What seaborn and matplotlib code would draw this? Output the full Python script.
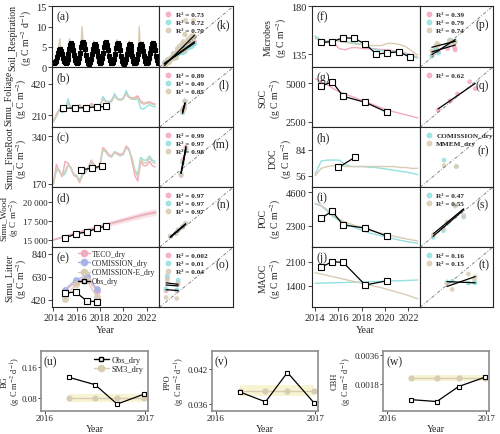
import numpy as np
import matplotlib
matplotlib.use('Agg')
import matplotlib.pyplot as plt
import seaborn as sns
from matplotlib.lines import Line2D

sns.set_style('ticks')
plt.rcParams['font.family'] = ['Liberation Serif', 'DejaVu Serif']
plt.rcParams['mathtext.fontset'] = 'stix'

PINK = '#f5a9bc'
CYAN = '#93e2df'
BEIGE = '#d9ccb4'
LAV = '#a8b3e8'
BAND = '#f7f3cf'

# ---------------- data ----------------
# (a) soil respiration, monthly 2014-2022
resp_obs = [1.0, 1.2, 1.5, 2.5, 3.5, 4.2, 4.5, 4.0, 3.2, 2.2, 1.5, 1.2,
            1.0, 1.3, 2.0, 3.2, 4.5, 5.5, 6.0, 5.5, 4.2, 3.0, 1.8, 1.2,
            1.0, 1.2, 2.2, 3.5, 5.0, 6.0, 6.2, 5.8, 4.5, 3.0, 1.8, 1.1,
            0.9, 1.2, 2.0, 3.2, 4.6, 5.5, 5.8, 5.2, 4.0, 2.8, 1.6, 1.0,
            1.0, 1.3, 2.2, 3.5, 5.0, 6.0, 6.2, 5.6, 4.2, 2.8, 1.7, 1.1,
            1.0, 1.2, 2.0, 3.3, 4.8, 5.8, 6.0, 5.5, 4.2, 2.8, 1.6, 1.0,
            0.9, 1.2, 2.0, 3.2, 4.5, 5.4, 5.8, 5.3, 4.0, 2.7, 1.6, 1.0,
            1.0, 1.2, 2.0, 3.2, 4.6, 5.5, 5.8, 5.3, 4.0, 2.7, 1.6, 1.0,
            1.0, 1.3, 2.2, 3.5, 4.8, 5.8, 6.0, 5.6, 4.3, 2.9, 1.7, 1.1]
resp_teco = [0.9, 1.1, 1.7, 2.9, 4.0, 4.8, 5.0, 4.4, 3.3, 2.1, 1.3, 1.0,
             0.9, 1.1, 1.9, 3.1, 4.3, 5.1, 5.3, 4.7, 3.5, 2.2, 1.3, 1.0,
             0.9, 1.2, 1.9, 3.2, 4.4, 5.3, 5.4, 4.8, 3.5, 2.3, 1.4, 1.0,
             0.9, 1.1, 1.8, 3.0, 4.2, 5.0, 5.2, 4.6, 3.4, 2.2, 1.3, 1.0,
             0.9, 1.1, 1.9, 3.1, 4.3, 5.2, 5.3, 4.7, 3.4, 2.2, 1.3, 1.0,
             0.9, 1.1, 1.8, 3.0, 4.2, 5.1, 5.2, 4.6, 3.4, 2.1, 1.3, 1.0,
             0.9, 1.1, 1.8, 3.0, 4.1, 5.0, 5.2, 4.5, 3.3, 2.1, 1.3, 1.0,
             0.9, 1.1, 1.9, 3.1, 4.3, 5.0, 5.1, 4.5, 3.3, 2.1, 1.3, 1.0,
             0.9, 1.1, 1.9, 3.1, 4.3, 5.2, 5.3, 4.7, 3.5, 2.2, 1.3, 1.0]
resp_com = [0.8, 1.0, 1.6, 2.8, 3.8, 4.5, 4.8, 4.3, 3.2, 2.0, 1.2, 0.9,
            0.8, 1.0, 1.8, 3.0, 4.1, 4.8, 5.0, 4.4, 3.3, 2.1, 1.2, 0.9,
            0.8, 1.1, 1.8, 3.1, 4.2, 5.0, 5.1, 4.5, 3.3, 2.1, 1.3, 0.9,
            0.8, 1.0, 1.7, 2.9, 4.0, 4.7, 4.9, 4.3, 3.2, 2.0, 1.2, 0.9,
            0.8, 1.0, 1.8, 3.0, 4.1, 4.9, 5.0, 4.4, 3.2, 2.0, 1.2, 0.9,
            0.8, 1.0, 1.7, 2.9, 4.0, 4.8, 4.9, 4.3, 3.2, 2.0, 1.2, 0.9,
            0.8, 1.0, 1.7, 2.9, 3.9, 4.7, 4.9, 4.3, 3.1, 2.0, 1.2, 0.9,
            0.8, 1.0, 1.8, 3.0, 4.1, 4.7, 4.8, 4.3, 3.1, 2.0, 1.2, 0.9,
            0.8, 1.0, 1.8, 3.0, 4.1, 4.9, 5.0, 4.4, 3.3, 2.1, 1.2, 0.9]
resp_come = [0.6, 0.8, 1.5, 3.0, 4.5, 5.5, 7.0, 5.0, 3.5, 2.0, 1.0, 0.7,
             0.6, 0.9, 2.0, 4.0, 7.0, 5.5, 6.0, 5.0, 3.8, 2.2, 1.1, 0.7,
             0.6, 0.9, 2.0, 3.8, 6.0, 10.0, 6.5, 5.5, 3.8, 2.2, 1.1, 0.7,
             0.6, 0.8, 1.8, 3.5, 5.0, 6.5, 6.0, 5.2, 3.5, 2.0, 1.0, 0.6,
             0.6, 0.8, 1.8, 3.5, 5.5, 6.0, 6.5, 5.2, 3.6, 2.0, 1.0, 0.6,
             0.6, 0.8, 1.9, 3.6, 5.2, 6.8, 6.0, 5.5, 3.6, 2.0, 1.0, 0.6,
             0.6, 0.8, 1.8, 3.5, 5.0, 6.2, 6.5, 5.0, 3.5, 2.0, 1.0, 0.6,
             0.6, 0.8, 2.0, 3.8, 10.0, 6.0, 6.2, 5.0, 3.6, 2.0, 1.0, 0.6,
             0.6, 0.8, 1.8, 3.6, 5.2, 6.5, 6.0, 5.4, 3.6, 2.0, 1.0, 0.6]

# (b) foliage, quarterly
fol_teco = [170, 215, 250, 240, 250, 290, 270, 255, 255, 280, 265, 255,
            260, 290, 275, 265, 280, 320, 305, 300, 310, 345, 320, 315,
            325, 360, 335, 325, 330, 340, 305, 290, 295, 300, 290, 285]
fol_com = [165, 200, 245, 225, 235, 320, 255, 240, 250, 275, 255, 245,
           255, 280, 265, 255, 270, 335, 305, 300, 305, 355, 320, 315,
           320, 375, 330, 320, 315, 320, 255, 250, 265, 280, 270, 265]
fol_come = [165, 210, 240, 230, 240, 285, 260, 245, 250, 272, 258, 248,
            255, 282, 268, 258, 272, 315, 300, 292, 300, 338, 315, 308,
            318, 352, 326, 316, 322, 330, 295, 282, 288, 292, 284, 278]
fol_obs_t = [2014.85, 2015.85, 2016.8, 2017.75, 2018.5]
fol_obs = [255, 258, 260, 265, 268]

# (c) fine root, quarterly
root_teco = [170, 240, 215, 195, 250, 245, 225, 200, 195, 175, 200, 215,
             230, 255, 240, 225, 240, 300, 290, 275, 270, 285, 280, 275,
             280, 305, 295, 250, 200, 180, 250, 235, 235, 250, 235, 230]
root_com = [175, 215, 220, 200, 205, 235, 230, 205, 200, 185, 205, 210,
            225, 245, 235, 225, 235, 290, 285, 270, 265, 285, 275, 270,
            275, 300, 290, 260, 220, 205, 265, 255, 255, 270, 255, 250]
root_come = [172, 225, 218, 198, 215, 238, 228, 203, 198, 180, 202, 212,
             228, 250, 238, 224, 238, 295, 285, 270, 268, 282, 276, 272,
             276, 300, 290, 262, 215, 195, 258, 245, 245, 262, 248, 243]
root_obs_t = [2016.4, 2017.35, 2018.2]
root_obs = [221, 226, 235]

# (d) wood, yearly
wood_teco = [15000, 15450, 15900, 16320, 16750, 17180, 17600, 18000, 18400, 18700]
wood_lo = [14950, 15300, 15700, 16080, 16450, 16850, 17230, 17600, 17960, 18250]
wood_hi = [15050, 15600, 16100, 16560, 17050, 17510, 17970, 18400, 18840, 19150]
wood_com = [15000, 15430, 15870, 16300, 16720, 17150, 17560, 17960, 18350, 18650]
wood_come = [15000, 15420, 15850, 16280, 16700, 17120, 17520, 17920, 18300, 18600]
wood_obs_t = [2014.95, 2015.9, 2016.85, 2017.75, 2018.5]
wood_obs = [15190, 15800, 16030, 16520, 16830]

# (e) litter, annual
lit_t = [2014.95, 2015.9, 2016.85, 2017.75]
lit_teco = [500, 580, 620, 500]
lit_com = [510, 600, 640, 520]
lit_come = [430, 560, 600, 440]
lit_obs = [480, 490, 410, 400]

# (f)-(j), half-yearly
mic_teco = [151, 148, 147, 146, 140, 139, 141, 141, 140, 140, 140, 139, 139, 138, 138, 136, 134, 132]
mic_com = [152, 148, 147, 148, 148, 147, 146, 145, 144, 141, 139, 138, 138, 137, 136, 135, 133, 131]
mic_come = [150, 147, 146, 148, 147, 146, 145, 144, 144, 143, 143, 143, 145, 145, 144, 142, 138, 134]
mic_obs_t = [2014.5, 2015.45, 2016.4, 2017.35, 2018.3, 2019.25, 2020.2, 2021.2, 2022.15]
mic_obs = [146, 146.6, 150.4, 149.8, 144.4, 135, 136, 137.2, 131.9]

soc_teco = [5300, 5100, 4900, 4650, 4450, 4300, 4150, 4000, 3850, 3700, 3550, 3400, 3250, 3150, 3050, 2950, 2850, 2750]
soil_obs_t = [2014.5, 2015.45, 2016.4, 2018.3, 2020.2]
soc_obs = [4804, 5104, 4152, 3760, 3108]

doc_com = [58, 72, 73, 73, 73, 68, 66, 66, 66, 65, 65, 64, 63, 62, 61, 60, 59, 57]
doc_mmem = [56, 64, 66, 67, 67, 66, 66, 66, 66, 66, 66, 66, 66, 66, 65, 65, 64, 64]
doc_obs_t = [2016.0, 2017.4]
doc_obs = [65, 76]

poc_com = [3800, 3650, 3300, 2900, 2650, 2450, 2250, 2100, 1950, 1800, 1700, 1600, 1500, 1400, 1300, 1220, 1150, 1080]
poc_mmem = [3850, 3700, 3400, 3000, 2750, 2550, 2400, 2250, 2100, 1980, 1870, 1770, 1670, 1580, 1480, 1400, 1320, 1250]
poc_obs = [2811, 3294, 2348, 2141, 1568]

maoc_com = [1470, 1475, 1480, 1485, 1490, 1495, 1500, 1505, 1510, 1515, 1520, 1525, 1530, 1540, 1545, 1550, 1560, 1565]
maoc_mmem = [1780, 1740, 1700, 1660, 1620, 1580, 1540, 1500, 1460, 1420, 1380, 1340, 1290, 1240, 1190, 1140, 1080, 1020]
maoc_obs = [1936, 2100, 2080, 1420, 1546]

# enzymes (u)-(w)
enz_t = [2016.24, 2016.5, 2016.72, 2016.99]
bg_obs = [0.133, 0.1145, 0.0657, 0.0909]
bg_sm3 = [0.08, 0.08, 0.08, 0.08]
bg_lo, bg_hi = [0.07] * 4, [0.09] * 4
ppo_obs = [0.03807, 0.03639, 0.04133, 0.03617]
ppo_sm3 = [0.0383, 0.0383, 0.0383, 0.0383]
ppo_lo, ppo_hi = [0.0373] * 4, [0.0393] * 4
cbh_obs = [0.0008, 0.00068, 0.00163, 0.00223]
cbh_sm3 = [0.00218, 0.00218, 0.00218, 0.00218]
cbh_lo, cbh_hi = [0.00198] * 4, [0.00238] * 4

# time grids
t_month = 2014 + (np.arange(108) + 0.5) / 12
t_q = 2014 + np.arange(36) * 0.25
t_half = np.linspace(2014, 2022.8, 18)
t_year = np.linspace(2014, 2022.8, 10)


def at_obs(t, v, ot):
    idx = np.abs(np.asarray(t)[:, None] - np.asarray(ot)[None, :]).argmin(axis=0)
    return np.asarray(v)[idx]


fig = plt.figure(figsize=(5, 4.35), dpi=100)


def px_ax(x0, y0, x1, y1):
    return fig.add_axes([x0 / 500, 1 - y1 / 435, (x1 - x0) / 500, (y1 - y0) / 435])


def ts_panel(ax, xlim, ylim, ticks, ylabel, tag, lines, obs_t, obs_v, ticklabels=None,
             ms=4, mfc='white'):
    for t, v, c in lines:
        sns.lineplot(x=t, y=v, color=c, lw=1.0, ax=ax)
    sns.lineplot(x=obs_t, y=obs_v, color='k', lw=0.9, marker='s', ms=ms,
                 markerfacecolor=mfc, markeredgecolor='k', markeredgewidth=0.8, ax=ax)
    ax.set_xlim(xlim)
    ax.set_ylim(ylim)
    ax.set_yticks(ticks)
    if ticklabels is not None:
        ax.set_yticklabels(ticklabels)
    ax.tick_params(axis='y', labelsize=7.5, length=3, width=0.6, pad=1)
    ax.tick_params(axis='x', bottom=False, labelbottom=False)
    ax.set_ylabel(ylabel, fontsize=7, labelpad=1.5, linespacing=1.15)
    ax.set_xlabel('')
    ax.text(0.04, 0.93, tag, transform=ax.transAxes, fontsize=8.5, va='top')
    for s in ax.spines.values():
        s.set_linewidth(0.8)


def sc_panel(ax, lim, obs, models, r2, tag, fit=True, labels=None, tag_y=0.66):
    ax.plot(lim, lim, color='0.45', lw=0.6, ls=(0, (4, 2, 1, 2)))
    for vals, c in models:
        sns.scatterplot(x=obs, y=vals, color=c, s=12, edgecolor='none', alpha=0.85,
                        ax=ax, legend=False)
    if fit:
        for vals, c in models:
            k, b = np.polyfit(obs, vals, 1)
            xs = np.array([min(obs), max(obs)])
            ax.plot(xs, k * xs + b, color='k', lw=0.9)
    handles = [Line2D([], [], marker='o', ls='', color=c, ms=3.2, alpha=0.85) for _, c in models]
    if labels is None:
        labels = ['R² = ' + r for r in r2]
    ax.legend(handles, labels, loc='upper left', frameon=False,
              prop={'size': 5.2, 'weight': 'bold'}, handletextpad=0.4,
              labelspacing=0.3, borderaxespad=0.25, handlelength=1.2)
    ax.text(0.95, tag_y, tag, transform=ax.transAxes, ha='right', fontsize=8.5)
    ax.set_xlim(lim)
    ax.set_ylim(lim)
    ax.set_xticks([])
    ax.set_yticks([])
    ax.set_xlabel('')
    ax.set_ylabel('')
    for s in ax.spines.values():
        s.set_linewidth(0.8)


rows = [7.3, 68.3, 128.3, 188.3, 248.3, 308.3]
xl_left = (2013.9, 2023.1)
xl_right = (2013.7, 2023.0)
unit_d = '(g C m$^{-2}$ d$^{-1}$)'
unit = '(g C m$^{-2}$)'

# ---- left column ----
lim_a = (0, 15)
ax = px_ax(52.3, rows[0], 159.3, rows[1])
ts_panel(ax, xl_left, lim_a, [0, 5, 10, 15], 'Soil_Respiration\n' + unit_d, '(a)',
         [(t_month, resp_teco, PINK), (t_month, resp_com, CYAN), (t_month, resp_come, BEIGE)],
         t_month, resp_obs, ms=2.2, mfc='k')
ax = px_ax(159.3, rows[0], 233.3, rows[1])
sc_panel(ax, (0, 13), resp_obs, [(resp_teco, PINK), (resp_com, CYAN), (resp_come, BEIGE)],
         ['0.73', '0.72', '0.70'], '(k)')

lim_b = (127, 533)
ax = px_ax(52.3, rows[1], 159.3, rows[2])
ts_panel(ax, xl_left, lim_b, [210, 420], 'Simu_Foliage\n' + unit, '(b)',
         [(t_q, fol_teco, PINK), (t_q, fol_com, CYAN), (t_q, fol_come, BEIGE)],
         fol_obs_t, fol_obs)
ax = px_ax(159.3, rows[1], 233.3, rows[2])
sc_panel(ax, lim_b, fol_obs, [(at_obs(t_q, m, fol_obs_t), c) for m, c in
                              [(fol_teco, PINK), (fol_com, CYAN), (fol_come, BEIGE)]],
         ['0.89', '0.49', '0.85'], '(l)')

lim_c = (158, 372)
ax = px_ax(52.3, rows[2], 159.3, rows[3])
ts_panel(ax, xl_left, lim_c, [170, 340], 'Simu_FineRoot\n' + unit, '(c)',
         [(t_q, root_teco, PINK), (t_q, root_com, CYAN), (t_q, root_come, BEIGE)],
         root_obs_t, root_obs)
ax = px_ax(159.3, rows[2], 233.3, rows[3])
sc_panel(ax, lim_c, root_obs, [(at_obs(t_q, m, root_obs_t), c) for m, c in
                               [(root_teco, PINK), (root_com, CYAN), (root_come, BEIGE)]],
         ['0.99', '0.97', '0.98'], '(m)')

lim_d = (14000, 22000)
ax = px_ax(52.3, rows[3], 159.3, rows[4])
ax.fill_between(t_year, wood_lo, wood_hi, color=PINK, alpha=0.35, lw=0)
ts_panel(ax, xl_left, lim_d, [15000, 17500, 20000], 'Simu_Wood\n' + unit, '(d)',
         [(t_year, wood_com, CYAN), (t_year, wood_come, BEIGE), (t_year, wood_teco, PINK)],
         wood_obs_t, wood_obs, ticklabels=['15 000', '17 500', '20 000'])
ax.tick_params(axis='y', labelsize=6.5, pad=0.5)
ax.set_ylabel('Simu_Wood\n' + unit, fontsize=6.5, linespacing=1.0)
ax.yaxis.set_label_coords(-0.29, 0.5)
ax = px_ax(159.3, rows[3], 233.3, rows[4])
sc_panel(ax, lim_d, wood_obs, [(at_obs(t_year, m, wood_obs_t), c) for m, c in
                               [(wood_teco, PINK), (wood_com, CYAN), (wood_come, BEIGE)]],
         ['0.97', '0.97', '0.97'], '(n)')

lim_e = (350, 900)
ax = px_ax(52.3, rows[4], 159.3, rows[5])
for v, c in [(lit_teco, PINK), (lit_com, LAV), (lit_come, BEIGE)]:
    sns.lineplot(x=lit_t, y=v, color=c, lw=1.0, marker='o', ms=5, markeredgecolor='none',
                 alpha=0.9, ax=ax)
ts_panel(ax, xl_left, lim_e, [420, 630, 840], 'Simu_Litter\n' + unit, '(e)', [], lit_t, lit_obs)
ax.tick_params(axis='x', bottom=True, labelbottom=True, labelsize=7.5, length=3, width=0.6, pad=1)
ax.set_xticks([2014, 2016, 2018, 2020, 2022])
ax.set_xlabel('Year', fontsize=7.5, labelpad=2)
leg_h = [Line2D([], [], color=PINK, marker='o', ms=4.5, lw=1),
         Line2D([], [], color=LAV, marker='o', ms=4.5, lw=1),
         Line2D([], [], color=BEIGE, marker='o', ms=4.5, lw=1),
         Line2D([], [], color='k', marker='s', ms=3.5, lw=1, mfc='white')]
ax.legend(leg_h, ['TECO_dry', 'COMISSION_dry', 'COMISSION-E_dry', 'Obs_dry'],
          loc='upper right', frameon=False, fontsize=5.5, handlelength=1.6,
          handletextpad=0.3, labelspacing=0.15, borderaxespad=0.1,
          bbox_to_anchor=(1.0, 1.02))
ax = px_ax(159.3, rows[4], 233.3, rows[5])
sc_panel(ax, lim_e, lit_obs, [(lit_teco, PINK), (lit_com, CYAN), (lit_come, BEIGE)],
         ['0.002', '0.01', '0.04'], '(o)')

# ---- right column ----
lim_f = (122.5, 180)
ax = px_ax(311.7, rows[0], 420, rows[1])
ts_panel(ax, xl_right, lim_f, [135, 180], 'Microbes\n' + unit, '(f)',
         [(t_half, mic_teco, PINK), (t_half, mic_com, CYAN), (t_half, mic_come, BEIGE)],
         mic_obs_t, mic_obs)
ax = px_ax(420, rows[0], 492.7, rows[1])
sc_panel(ax, lim_f, mic_obs, [(at_obs(t_half, m, mic_obs_t), c) for m, c in
                              [(mic_teco, PINK), (mic_com, CYAN), (mic_come, BEIGE)]],
         ['0.39', '0.79', '0.74'], '(p)')

lim_g = (2135, 6040)
ax = px_ax(311.7, rows[1], 420, rows[2])
ts_panel(ax, xl_right, lim_g, [2500, 5000], 'SOC\n' + unit, '(g)',
         [(t_half, soc_teco, PINK)], soil_obs_t, soc_obs)
ax = px_ax(420, rows[1], 492.7, rows[2])
sc_panel(ax, lim_g, soc_obs, [(at_obs(t_half, soc_teco, soil_obs_t), PINK)], ['0.62'], '(q)')

lim_h = (43.4, 108.7)
ax = px_ax(311.7, rows[2], 420, rows[3])
ts_panel(ax, xl_right, lim_h, [56, 84], 'DOC\n' + unit, '(h)',
         [(t_half, doc_com, CYAN), (t_half, doc_mmem, BEIGE)], doc_obs_t, doc_obs)
ax = px_ax(420, rows[2], 492.7, rows[3])
sc_panel(ax, lim_h, doc_obs, [(at_obs(t_half, m, doc_obs_t), c) for m, c in
                              [(doc_com, CYAN), (doc_mmem, BEIGE)]],
         [], '(r)', fit=False, labels=['COMISSION_dry', 'MMEM_dry'], tag_y=0.56)

lim_i = (810, 4945)
ax = px_ax(311.7, rows[3], 420, rows[4])
ts_panel(ax, xl_right, lim_i, [2300, 4600], 'POC\n' + unit, '(i)',
         [(t_half, poc_com, CYAN), (t_half, poc_mmem, BEIGE)], soil_obs_t, poc_obs)
ax = px_ax(420, rows[3], 492.7, rows[4])
sc_panel(ax, lim_i, poc_obs, [(at_obs(t_half, m, soil_obs_t), c) for m, c in
                              [(poc_com, CYAN), (poc_mmem, BEIGE)]],
         ['0.47', '0.55'], '(s)')

lim_j = (770, 2520)
ax = px_ax(311.7, rows[4], 420, rows[5])
ts_panel(ax, xl_right, lim_j, [1400, 2100], 'MAOC\n' + unit, '(j)',
         [(t_half, maoc_com, CYAN), (t_half, maoc_mmem, BEIGE)], soil_obs_t, maoc_obs)
ax.tick_params(axis='x', bottom=True, labelbottom=True, labelsize=7.5, length=3, width=0.6, pad=1)
ax.set_xticks([2014, 2016, 2018, 2020, 2022])
ax.set_xlabel('Year', fontsize=7.5, labelpad=2)
ax = px_ax(420, rows[4], 492.7, rows[5])
sc_panel(ax, lim_j, maoc_obs, [(at_obs(t_half, m, soil_obs_t), c) for m, c in
                               [(maoc_com, CYAN), (maoc_mmem, BEIGE)]],
         ['0.16', '0.15'], '(t)')

# ---- bottom row: enzymes ----
enz = [
    ((40.7, 148.3), 'BG', bg_obs, bg_sm3, bg_lo, bg_hi, (0.049, 0.200), [0.08, 0.16], ['0.08', '0.16'], '(u)'),
    ((211.7, 318.3), 'PPO', ppo_obs, ppo_sm3, ppo_lo, ppo_hi, (0.0349, 0.0450), [0.036, 0.042], ['0.036', '0.042'], '(v)'),
    ((383.3, 489.3), 'CBH', cbh_obs, cbh_sm3, cbh_lo, cbh_hi, (0.0001, 0.0039), [0.0018, 0.0036], ['0.0018', '0.0036'], '(w)'),
]
for i, (xs, name, ob, sm, lo, hi, yl, yt, ytl, tag) in enumerate(enz):
    ax = px_ax(xs[0], 351.7, xs[1], 411.7)
    ax.fill_between(enz_t, lo, hi, color=BAND, alpha=0.9, lw=0)
    sns.lineplot(x=enz_t, y=sm, color=BEIGE, lw=1.0, marker='o', ms=4.5,
                 markeredgecolor='none', ax=ax)
    sns.lineplot(x=enz_t, y=ob, color='k', lw=0.9, marker='s', ms=3.5,
                 markerfacecolor='white', markeredgecolor='k', markeredgewidth=0.8, ax=ax)
    ax.set_xlim(2015.96, 2017.03)
    ax.set_ylim(yl)
    ax.set_xticks([2016, 2017])
    ax.set_xticklabels(['2016', '2017'])
    ax.set_yticks(yt)
    ax.set_yticklabels(ytl)
    ax.tick_params(labelsize=6.5, length=2, width=0.6, pad=0.5)
    ax.set_ylabel(name + '\n' + unit_d, fontsize=6, linespacing=1.05)
    ax.set_xlabel('Year', fontsize=7, labelpad=1)
    ax.text(0.03, 0.93, tag, transform=ax.transAxes, fontsize=8.5, va='top')
    for s in ax.spines.values():
        s.set_linewidth(1.2)
        s.set_color('0.55')
    if i == 0:
        ax.yaxis.set_label_coords(-0.165, 0.5)
        h = [Line2D([], [], color='k', marker='s', ms=3.5, lw=1, mfc='white'),
             Line2D([], [], color=BEIGE, marker='o', ms=4.5, lw=1)]
        ax.legend(h, ['Obs_dry', 'SM3_dry'], loc='upper right', frameon=False, fontsize=6,
                  handlelength=1.8, handletextpad=0.3, labelspacing=0.2, borderaxespad=0.2)
    else:
        ax.yaxis.labelpad = 1

fig.savefig('out.png', dpi=100)
